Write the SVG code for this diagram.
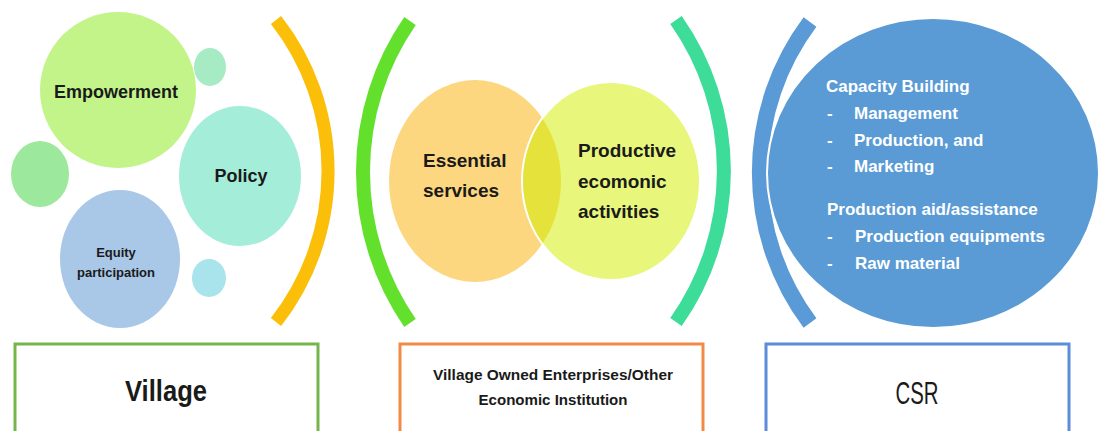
<svg xmlns="http://www.w3.org/2000/svg" width="1102" height="431" viewBox="0 0 1102 431">
<defs>
<style>
.t{font-family:"Liberation Sans",Arial,sans-serif;font-weight:bold;fill:#1a1a1a}
.w{font-family:"Liberation Sans",Arial,sans-serif;font-weight:bold;fill:#ffffff;font-size:17px}
.arc{fill:none;stroke-linecap:butt}
.box{fill:#ffffff;stroke-width:3}
</style>
<clipPath id="clipOrange"><ellipse cx="475" cy="181" rx="86" ry="101"/></clipPath>
</defs>
<rect width="1102" height="431" fill="#ffffff"/>

<g id="connectors">
<path class="arc" d="M276,20 A245,245 0 0 1 276,322" stroke="#fbbf0a" stroke-width="13"/>
<path class="arc" d="M410,21 A266,266 0 0 0 410,323" stroke="#63e02c" stroke-width="14"/>
<path class="arc" d="M676,20 A262,262 0 0 1 676,322" stroke="#3ddc98" stroke-width="14"/>
<path class="arc" d="M810,22 A251,251 0 0 0 810,323" stroke="#5a9ad6" stroke-width="16"/>
</g>

<g id="village-circles">
<g id="empowerment">
<circle cx="118" cy="90" r="78" fill="#c3f48a"/>
<text class="t" x="116" y="98" font-size="18" text-anchor="middle">Empowerment</text>
</g>
<ellipse id="small-top" cx="210" cy="67" rx="16" ry="19" fill="#a6ebc4"/>
<ellipse id="small-left" cx="40" cy="174" rx="29" ry="33" fill="#9ce89c"/>
<g id="policy">
<ellipse cx="240" cy="176" rx="61" ry="70" fill="#a4edd9"/>
<text class="t" x="241" y="182" font-size="18" text-anchor="middle">Policy</text>
</g>
<g id="equity">
<ellipse cx="120" cy="259" rx="60" ry="69" fill="#a9c7e7"/>
<text class="t" x="116" y="257" font-size="13" text-anchor="middle">Equity</text>
<text class="t" x="116" y="277" font-size="13" text-anchor="middle">participation</text>
</g>
<ellipse id="small-bottom" cx="209" cy="278" rx="17" ry="19" fill="#a9e3eb"/>
</g>

<g id="venn">
<g id="essential">
<ellipse cx="475" cy="181" rx="86" ry="101" fill="#fcd77f"/>
</g>
<g id="productive">
<ellipse cx="611" cy="181" rx="89" ry="99" fill="#e8f77c" stroke="#ffffff" stroke-width="2"/>
<ellipse cx="611" cy="181" rx="88" ry="98" fill="#e6e23c" clip-path="url(#clipOrange)"/>
</g>
<text class="t" x="423" y="167" font-size="19">Essential</text>
<text class="t" x="423" y="197" font-size="19">services</text>
<text class="t" x="578" y="157" font-size="19">Productive</text>
<text class="t" x="578" y="188" font-size="19">ecomonic</text>
<text class="t" x="578" y="218" font-size="19">activities</text>
</g>

<g id="csr-circle">
<ellipse cx="933" cy="173" rx="166" ry="155" fill="#5b9bd5" stroke="#ffffff" stroke-width="2"/>
<text class="w" x="826" y="92">Capacity Building</text>
<text class="w" x="827" y="119">-</text><text class="w" x="854" y="119">Management</text>
<text class="w" x="827" y="146">-</text><text class="w" x="854" y="146">Production, and</text>
<text class="w" x="827" y="172">-</text><text class="w" x="854" y="172">Marketing</text>
<text class="w" x="827" y="215">Production aid/assistance</text>
<text class="w" x="827" y="242">-</text><text class="w" x="855" y="242">Production equipments</text>
<text class="w" x="827" y="269">-</text><text class="w" x="855" y="269">Raw material</text>
</g>

<g id="village-box">
<rect class="box" x="15" y="344" width="303" height="100" stroke="#74b64b"/>
<text class="t" x="166" y="401" font-size="29" text-anchor="middle" textLength="82" lengthAdjust="spacingAndGlyphs">Village</text>
</g>
<g id="voe-box">
<rect class="box" x="400" y="344" width="303" height="100" stroke="#f28a45"/>
<text class="t" x="553" y="380" font-size="15" text-anchor="middle" textLength="240" lengthAdjust="spacingAndGlyphs">Village Owned Enterprises/Other</text>
<text class="t" x="553" y="405" font-size="15" text-anchor="middle" textLength="149" lengthAdjust="spacingAndGlyphs">Economic Institution</text>
</g>
<g id="csr-box">
<rect class="box" x="766" y="344" width="303" height="100" stroke="#5b8dd8"/>
<text x="917" y="404" font-family="Liberation Sans, Arial, sans-serif" font-size="31" fill="#1a1a1a" text-anchor="middle" textLength="43" lengthAdjust="spacingAndGlyphs">CSR</text>
</g>
</svg>
